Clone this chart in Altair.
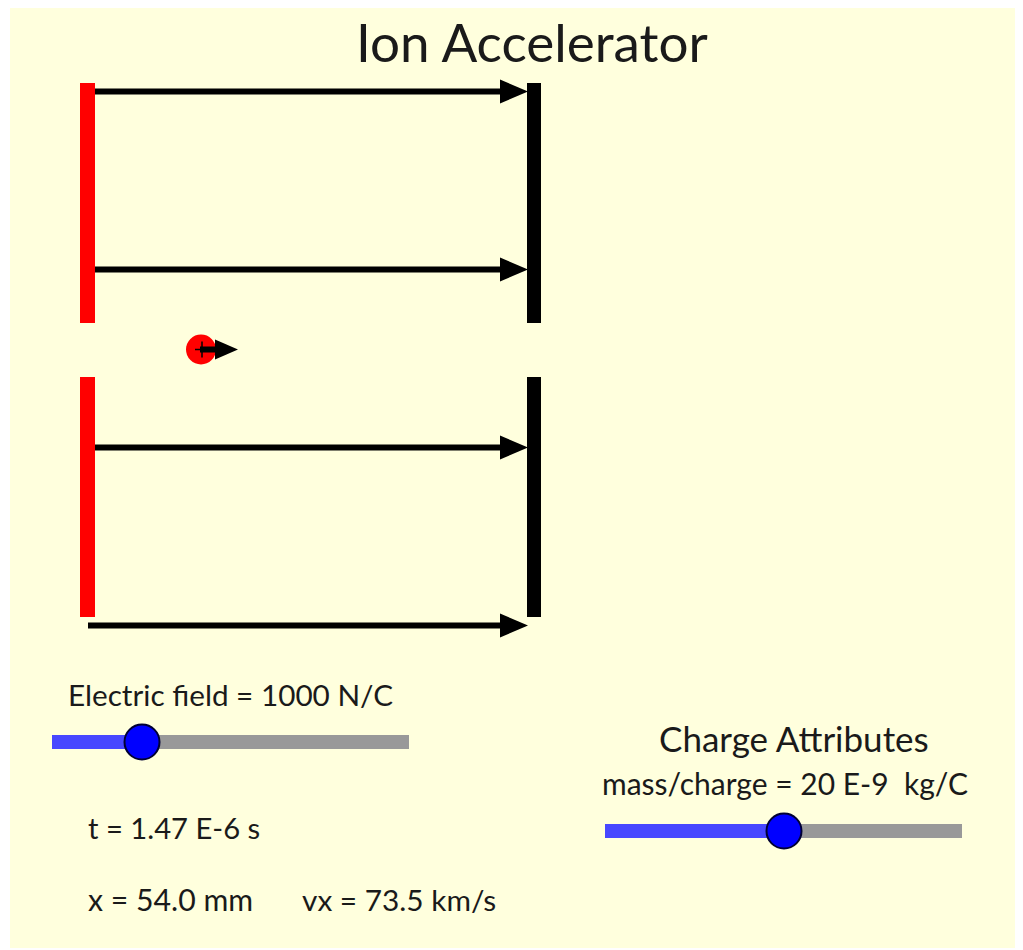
import altair as alt
import pandas as pd

# Reference-frame coordinates of the diagram (pixels of the picture)
FONT = "Lato"
panel = {"x": [10], "x2": [1015], "y": [8], "y2": [948]}

plate_tops = [83, 377]
plate_bottoms = [323, 617]
red_plate_x = [80, 95]
black_plate_x = [527, 541]

arrow_y = [91.5, 269.5, 447.5, 625.5]
arrow_start = [95, 95, 95, 88]
arrow_end = [505, 505, 505, 505]
head_x = [514, 514, 514, 514]

ion_x = [201]
ion_y = [349.5]
ion_arrow_start = [200]
ion_arrow_end = [218]
ion_head_x = [226.5]
plus_h_x = [195, 209]
plus_v_y = [341.5, 357.5]
plus_v_x = [202]

slider_x0 = [52, 605]
slider_knob = [142, 784]
slider_x1 = [409, 962]
slider_y = [742, 831]

labels = ["Ion Accelerator", "Electric field = 1000 N/C", "Charge Attributes",
          "mass/charge = 20 E-9 \u00a0kg/C", "t = 1.47 E-6 s", "x = 54.0 mm", "vx = 73.5 km/s"]
label_x = [356, 68, 659, 602, 88, 88, 302]
label_y = [46, 697, 741, 786, 830, 902, 902]
label_size = [53, 29.7, 35, 30, 29.2, 30.2, 29.8]

X = alt.X("x:Q", scale=alt.Scale(domain=[8, 1015], nice=False, zero=False), axis=None)
Y = alt.Y("y:Q", scale=alt.Scale(domain=[948, 8], nice=False, zero=False), axis=None)

def rects(df, color):
    return alt.Chart(df).mark_rect(color=color, stroke=None).encode(
        x=X, x2="x2:Q", y=Y, y2="y2:Q")

def hrule(df, color, width):
    return alt.Chart(df).mark_rule(color=color, strokeWidth=width).encode(
        x=X, x2="x2:Q", y=Y)

HEAD = "M-1,-0.86L1,0L-1,0.86Z"

bg = rects(pd.DataFrame(panel), "#ffffdd")

red = rects(pd.DataFrame({"x": [red_plate_x[0]] * 2, "x2": [red_plate_x[1]] * 2,
                          "y": plate_tops, "y2": plate_bottoms}), "#ff0000")
black = rects(pd.DataFrame({"x": [black_plate_x[0]] * 2, "x2": [black_plate_x[1]] * 2,
                            "y": plate_tops, "y2": plate_bottoms}), "#000000")

shafts = hrule(pd.DataFrame({"x": arrow_start, "x2": arrow_end, "y": arrow_y}), "#000000", 6)
heads = alt.Chart(pd.DataFrame({"x": head_x, "y": arrow_y})).mark_point(
    shape=HEAD, size=784, filled=True, color="#000000", opacity=1, strokeWidth=0
).encode(x=X, y=Y)

ion = alt.Chart(pd.DataFrame({"x": ion_x, "y": ion_y})).mark_circle(
    size=900, color="#ff0000", opacity=1).encode(x=X, y=Y)
plus_h = hrule(pd.DataFrame({"x": [plus_h_x[0]], "x2": [plus_h_x[1]], "y": ion_y}), "#000000", 1.5)
plus_v = alt.Chart(pd.DataFrame({"x": plus_v_x, "y": [plus_v_y[0]], "y2": [plus_v_y[1]]})).mark_rule(
    color="#000000", strokeWidth=1.5).encode(x=X, y=Y, y2="y2:Q")
ion_shaft = hrule(pd.DataFrame({"x": ion_arrow_start, "x2": ion_arrow_end, "y": ion_y}), "#000000", 6)
ion_head = alt.Chart(pd.DataFrame({"x": ion_head_x, "y": ion_y})).mark_point(
    shape=HEAD, size=529, filled=True, color="#000000", opacity=1, strokeWidth=0
).encode(x=X, y=Y)

track_gray = hrule(pd.DataFrame({"x": slider_knob, "x2": slider_x1, "y": slider_y}), "#999999", 14)
track_blue = hrule(pd.DataFrame({"x": slider_x0, "x2": slider_knob, "y": slider_y}), "#4747ff", 14)
knobs = alt.Chart(pd.DataFrame({"x": slider_knob, "y": slider_y})).mark_point(
    shape="circle", size=1225, filled=True, fill="#0000ff", stroke="#000033",
    strokeWidth=2, opacity=1).encode(x=X, y=Y)

text = alt.Chart(pd.DataFrame({"x": label_x, "y": label_y, "t": labels, "s": label_size})).mark_text(
    align="left", baseline="middle", font=FONT, color="#1a1a1a"
).encode(x=X, y=Y, text="t:N", size=alt.Size("s:Q", scale=None, legend=None))

chart = alt.layer(
    bg, red, black, shafts, heads, ion, ion_shaft, ion_head, plus_h, plus_v,
    track_gray, track_blue, knobs, text
).properties(
    width=1007, height=940, padding=0,
    autosize=alt.AutoSizeParams(type="none"), background="#ffffff"
).configure_view(stroke=None)

chart.save("out.html", embed_options={"renderer": "svg", "actions": False})
